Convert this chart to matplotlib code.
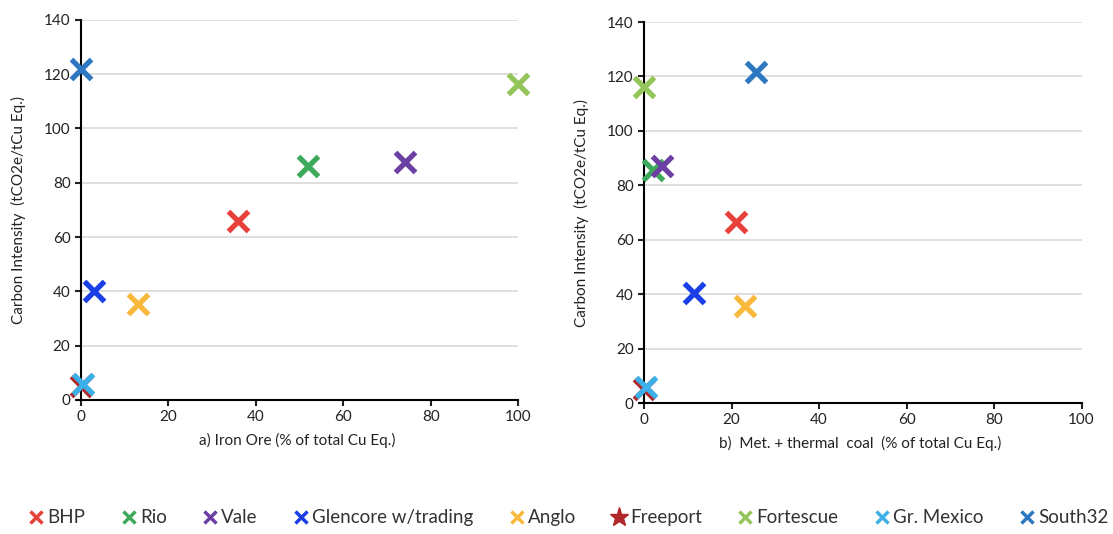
import matplotlib
matplotlib.use('Agg')
import matplotlib.pyplot as plt
from matplotlib.lines import Line2D

plt.rcParams['font.family'] = ['Lato', 'DejaVu Sans']

# Companies and their colours
companies = ['BHP', 'Rio', 'Vale', 'Glencore w/trading', 'Anglo', 'Freeport',
             'Fortescue', 'Gr. Mexico', 'South32']
colors = ['#e8413c', '#3fa95b', '#6b3fa3', '#1a3fe6', '#f8b93c', '#b0282a',
          '#93c55a', '#3cb0e8', '#2e78c2']

# Carbon intensity (tCO2e/tCu Eq.)
carbon = [66, 86, 87.5, 40, 35.5, 5, 116.5, 6, 122]
carbon_b = [66.5, 85.5, 87, 40.5, 35.5, 5, 116, 6, 121.5]

# a) iron ore share, b) met + thermal coal share (% of total Cu Eq.)
iron_ore = [36, 52, 74, 3, 13, 0, 100, 0.5, 0]
coal = [21, 2, 4, 11.5, 23, 0, 0, 0.5, 25.5]

fig = plt.figure(figsize=(11.13, 5.34), dpi=100)
ax1 = fig.add_axes([0.0688, 0.251, 0.397, 0.712])
ax2 = fig.add_axes([0.5747, 0.2453, 0.397, 0.7135])

panels = [(ax1, iron_ore, carbon, 'a) Iron Ore (% of total Cu Eq.)'),
          (ax2, coal, carbon_b, 'b)  Met. + thermal  coal  (% of total Cu Eq.)')]

for ax, xs, ys, xlabel in panels:
    for name, x, y, c in zip(companies, xs, ys, colors):
        ax.plot(x, y, linestyle='none', marker='x', markersize=15,
                markeredgewidth=3.8, color=c, label=name, clip_on=False, zorder=3)
    ax.set_xlim(-1, 100)
    ax.set_ylim(0, 140)
    ax.set_xticks(range(0, 101, 20))
    ax.set_yticks(range(0, 141, 20))
    ax.spines['left'].set_position(('data', 0))
    ax.spines['top'].set_visible(False)
    ax.spines['right'].set_visible(False)
    ax.spines['left'].set_linewidth(1.5)
    ax.spines['bottom'].set_linewidth(1.5)
    ax.grid(axis='y', color='#d9d9d9', linewidth=1.2)
    ax.set_axisbelow(True)
    ax.tick_params(labelsize=11, colors='#222222', width=1.5, length=4)
    ax.set_xlabel(xlabel, fontsize=11, color='#222222', labelpad=6)
    ax.set_ylabel('Carbon Intensity  (tCO2e/tCu Eq.)', fontsize=11, color='#222222')

ax1.yaxis.set_label_coords(-0.115, 0.5)
ax2.yaxis.set_label_coords(-0.115, 0.5)

handles = []
for name, c in zip(companies, colors):
    mk = '*' if name == 'Freeport' else 'x'
    handles.append(Line2D([], [], linestyle='none', marker=mk, color=c,
                          markersize=8 if mk == 'x' else 14, markeredgewidth=2.5 if mk == 'x' else 1))
fig.legend(handles, companies, loc='center', bbox_to_anchor=(0.51, 0.03), ncol=9,
           frameon=False, fontsize=13.5, handletextpad=0.1, columnspacing=1.8,
           handlelength=1.0, labelcolor='#333333')

fig.savefig('out.png', dpi=100)
